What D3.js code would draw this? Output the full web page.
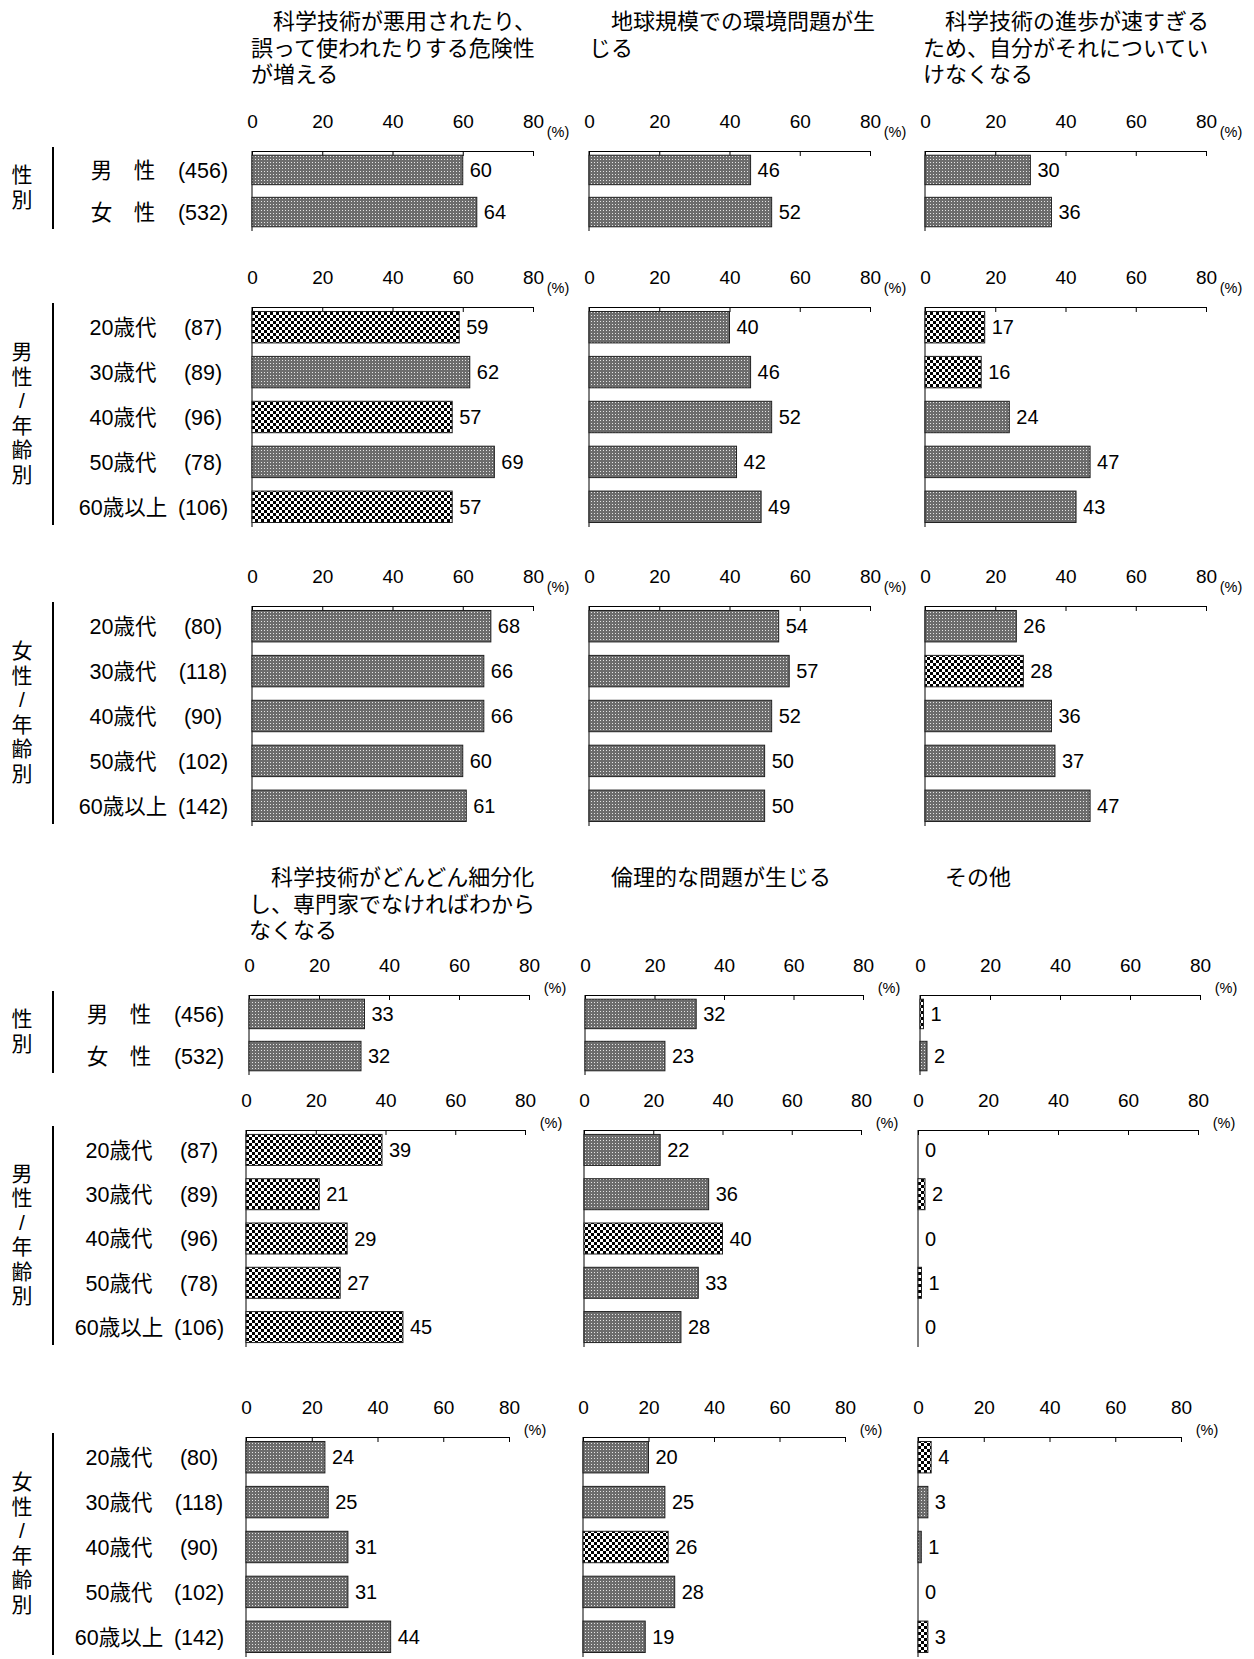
<!DOCTYPE html>
<html>
<head>
<meta charset="utf-8">
<script src="https://cdn.jsdelivr.net/npm/d3@7"></script>
<style>
  body { margin: 0; background: #fff; }
  svg { display: block; font-family: "Liberation Sans", Arial, "Noto Sans CJK JP", sans-serif; }
</style>
</head>
<body>
<svg id="chart" width="1254" height="1659"></svg>
<script>
// ---- categories ----
const genderRows = ["男　性", "女　性"];
const genderN = ["(456)", "(532)"];
const ageRows = ["20歳代", "30歳代", "40歳代", "50歳代", "60歳以上"];
const maleN = ["(87)", "(89)", "(96)", "(78)", "(106)"];
const femaleN = ["(80)", "(118)", "(90)", "(102)", "(142)"];
const groupLabels = ["性別", "男性/年齢別", "女性/年齢別"];
const tickValues = [0, 20, 40, 60, 80];

// ---- item titles (wrapped lines) ----
const itemTitles = [
  ["　科学技術が悪用されたり、", "誤って使われたりする危険性", "が増える"],
  ["　地球規模での環境問題が生", "じる"],
  ["　科学技術の進歩が速すぎる", "ため、自分がそれについてい", "けなくなる"],
  ["　科学技術がどんどん細分化", "し、専門家でなければわから", "なくなる"],
  ["　倫理的な問題が生じる"],
  ["　その他"]
];

// ---- values (%): 男性, 女性, 男性20〜60歳以上, 女性20〜60歳以上 ----
const misuse      = [60, 64, 59, 62, 57, 69, 57, 68, 66, 66, 60, 61];
const environment = [46, 52, 40, 46, 52, 42, 49, 54, 57, 52, 50, 50];
const tooFast     = [30, 36, 17, 16, 24, 47, 43, 26, 28, 36, 37, 47];
const specialized = [33, 32, 39, 21, 29, 27, 45, 24, 25, 31, 31, 44];
const ethics      = [32, 23, 22, 36, 40, 33, 28, 20, 25, 26, 28, 19];
const other       = [1, 2, 0, 2, 0, 1, 0, 4, 3, 1, 0, 3];

// ---- groups drawn with the checked fill (1) instead of the dotted fill (0) ----
const misuseMarked      = [0, 0, 1, 0, 1, 0, 1, 0, 0, 0, 0, 0];
const environmentMarked = [0, 0, 0, 0, 0, 0, 0, 0, 0, 0, 0, 0];
const tooFastMarked     = [0, 0, 1, 1, 0, 0, 0, 0, 1, 0, 0, 0];
const specializedMarked = [0, 0, 1, 1, 1, 1, 1, 0, 0, 0, 0, 0];
const ethicsMarked      = [0, 0, 0, 0, 1, 0, 0, 0, 0, 1, 0, 0];
const otherMarked       = [1, 0, 0, 1, 0, 1, 0, 1, 0, 0, 0, 1];

const items = [
  { title: itemTitles[0], values: misuse, marked: misuseMarked },
  { title: itemTitles[1], values: environment, marked: environmentMarked },
  { title: itemTitles[2], values: tooFast, marked: tooFastMarked },
  { title: itemTitles[3], values: specialized, marked: specializedMarked },
  { title: itemTitles[4], values: ethics, marked: ethicsMarked },
  { title: itemTitles[5], values: other, marked: otherMarked }
];

const blockDefs = [
  { rows: genderRows, n: genderN, start: 0, group: groupLabels[0] },
  { rows: ageRows, n: maleN, start: 2, group: groupLabels[1] },
  { rows: ageRows, n: femaleN, start: 7, group: groupLabels[2] }
];

const FONT = '"Liberation Sans", Arial, "Noto Sans CJK JP", sans-serif';

// ---- page layout ----
const sections = [
  {
    items: [0, 1, 2],
    titleX: [251, 589, 923], titleY: 29,
    ageX: 123, countX: 203,
    pctDx: 25, pctDy: -19,
    blocks: [
      { axisY: 151, h: 80,  x0: [252, 589, 925], x1: [533, 870, 1206] },
      { axisY: 307, h: 220, x0: [252, 589, 925], x1: [533, 870, 1206] },
      { axisY: 606, h: 220, x0: [252, 589, 925], x1: [533, 870, 1206] }
    ]
  },
  {
    items: [3, 4, 5],
    titleX: [249, 589, 923], titleY: 885,
    ageX: 119, countX: 199,
    pctDx: 26, pctDy: -7,
    blocks: [
      { axisY: 995,  h: 80,  x0: [249, 585, 920], x1: [529, 863, 1200] },
      { axisY: 1130, h: 217, x0: [246, 584, 918], x1: [525, 861, 1198] },
      { axisY: 1437, h: 220, x0: [246, 583, 918], x1: [509, 845, 1181] }
    ]
  }
];

const svg = d3.select("#chart");
const defs = svg.append("defs");

// dotted fill
const fine = defs.append("pattern").attr("id", "fine")
  .attr("patternUnits", "userSpaceOnUse").attr("width", 3).attr("height", 3);
fine.append("rect").attr("width", 3).attr("height", 3).attr("fill", "#6c6c6c");
fine.append("rect").attr("width", 1).attr("height", 1).attr("fill", "#e4e4e4");

// checked fill
const check = defs.append("pattern").attr("id", "check")
  .attr("patternUnits", "userSpaceOnUse").attr("width", 6).attr("height", 6);
check.append("rect").attr("width", 6).attr("height", 6).attr("fill", "#fff");
check.append("rect").attr("width", 3).attr("height", 3).attr("fill", "#000");
check.append("rect").attr("x", 3).attr("y", 3).attr("width", 3).attr("height", 3).attr("fill", "#000");

sections.forEach(sec => {
  // item titles
  sec.items.forEach((itemIdx, c) => {
    const t = svg.append("text")
      .attr("font-family", FONT).attr("font-size", 22).attr("fill", "#000");
    items[itemIdx].title.forEach((line, li) => {
      t.append("tspan").attr("x", sec.titleX[c]).attr("y", sec.titleY + li * 26.5).text(line);
    });
  });

  sec.blocks.forEach((blk, b) => {
    const def = blockDefs[b];
    const idx = d3.range(def.rows.length);
    const y = d3.scaleBand().domain(idx)
      .range([blk.axisY, blk.axisY + blk.h])
      .paddingInner(0.3).paddingOuter(0.1);

    // group label (stacked vertically) and bracket
    const chars = Array.from(def.group);
    const midY = blk.axisY + blk.h / 2 - 4;
    const pitch = 24.5;
    const gl = svg.append("text").attr("font-family", FONT).attr("font-size", 21)
      .attr("text-anchor", "middle").attr("fill", "#000");
    chars.forEach((ch, k) => {
      gl.append("tspan").attr("x", 22)
        .attr("y", midY + (k - (chars.length - 1) / 2) * pitch)
        .attr("dy", "0.36em").text(ch);
    });
    svg.append("line")
      .attr("x1", 53).attr("x2", 53)
      .attr("y1", blk.axisY - 4).attr("y2", blk.axisY + blk.h - 2)
      .attr("stroke", "#000").attr("stroke-width", 2);

    // row labels
    idx.forEach(i => {
      const cy = y(i) + y.bandwidth() / 2;
      svg.append("text").attr("x", sec.ageX).attr("y", cy).attr("dy", "0.36em")
        .attr("text-anchor", "middle").attr("font-size", 21.5).attr("font-family", FONT)
        .attr("fill", "#000").text(def.rows[i]);
      svg.append("text").attr("x", sec.countX).attr("y", cy).attr("dy", "0.36em")
        .attr("text-anchor", "middle").attr("font-size", 21.5).attr("font-family", FONT)
        .attr("fill", "#000").text(def.n[i]);
    });

    // one small bar chart per item
    sec.items.forEach((itemIdx, c) => {
      const item = items[itemIdx];
      const x = d3.scaleLinear().domain([0, 80]).range([blk.x0[c], blk.x1[c]]);
      const vals = idx.map(i => item.values[def.start + i]);
      const marks = idx.map(i => item.marked[def.start + i]);

      const axis = d3.axisTop(x).tickValues(tickValues)
        .tickSizeInner(-5).tickSizeOuter(-5).tickPadding(23);
      const g = svg.append("g").attr("transform", `translate(0,${blk.axisY})`).call(axis);
      g.attr("font-size", null).attr("font-family", null);
      g.select(".domain").attr("stroke", "#000");
      g.selectAll(".tick line").attr("stroke", "#000");
      g.selectAll(".tick text").attr("font-size", 19).attr("font-family", FONT).attr("fill", "#000");

      // "(%)"
      svg.append("text").attr("x", blk.x1[c] + sec.pctDx).attr("y", blk.axisY + sec.pctDy)
        .attr("dy", "0.36em").attr("text-anchor", "middle")
        .attr("font-size", 14.5).attr("font-family", FONT).attr("fill", "#000").text("(%)");

      // vertical baseline
      svg.append("line")
        .attr("x1", x(0)).attr("x2", x(0))
        .attr("y1", blk.axisY).attr("y2", blk.axisY + blk.h)
        .attr("stroke", "#000").attr("stroke-width", 1);

      // bars
      svg.append("g").selectAll("rect")
        .data(idx.filter(i => vals[i] > 0))
        .join("rect")
        .attr("x", x(0))
        .attr("y", i => y(i))
        .attr("width", i => x(vals[i]) - x(0))
        .attr("height", y.bandwidth())
        .attr("fill", i => marks[i] ? "url(#check)" : "url(#fine)")
        .attr("stroke", "#222").attr("stroke-width", 1);

      // value labels
      svg.append("g").selectAll("text")
        .data(idx)
        .join("text")
        .attr("x", i => x(vals[i]) + 7)
        .attr("y", i => y(i) + y.bandwidth() / 2)
        .attr("dy", "0.36em")
        .attr("font-size", 20).attr("font-family", FONT).attr("fill", "#000")
        .text(i => vals[i]);
    });
  });
});
</script>
</body>
</html>
